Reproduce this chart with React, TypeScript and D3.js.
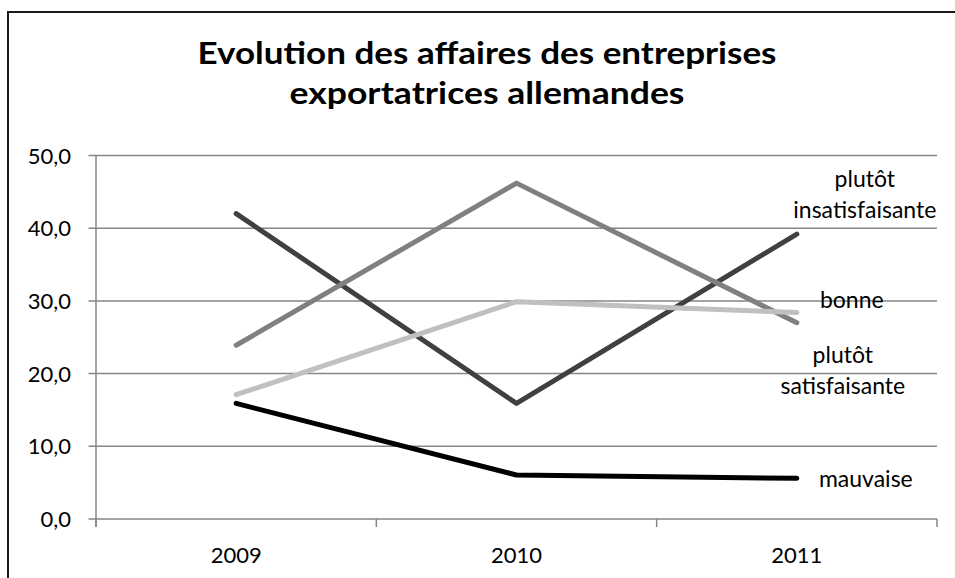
import * as d3 from "d3";

const years = ["2009", "2010", "2011"];
const seriesNames = ["plutôt insatisfaisante", "plutôt satisfaisante", "bonne", "mauvaise"];
const insatisfaisante = [42.0, 15.9, 39.2];
const satisfaisante = [23.9, 46.2, 27.0];
const bonne = [17.1, 29.9, 28.4];
const mauvaise = [15.9, 6.05, 5.6];
const yTicks = [0, 10, 20, 30, 40, 50];
const titleLines = ["Evolution des affaires des entreprises", "exportatrices allemandes"];

const W = 955;
const H = 578;
const FONT = "Lato, 'Open Sans', sans-serif";

export default function App() {
  const x = d3.scaleBand<string>().domain(years).range([96, 937]).padding(0);
  const y = d3.scaleLinear().domain([0, 50]).range([519, 155.5]);

  const series = [
    { name: seriesNames[0], values: insatisfaisante, color: "#404040" },
    { name: seriesNames[1], values: satisfaisante, color: "#808080" },
    { name: seriesNames[2], values: bonne, color: "#c0c0c0" },
    { name: seriesNames[3], values: mauvaise, color: "#000000" },
  ];

  const line = d3
    .line<number>()
    .x((_, i) => (x(years[i]) ?? 0) + x.bandwidth() / 2)
    .y((d) => y(d));

  // manually placed end labels (offsets from the last year)
  const lastX = (x(years[2]) ?? 0) + x.bandwidth() / 2;
  const labels = [
    { lines: ["plutôt", "insatisfaisante"], dx: 68, baseline: 187 },
    { lines: ["bonne"], dx: 55, baseline: 308 },
    { lines: ["plutôt", "satisfaisante"], dx: 46, baseline: 363 },
    { lines: ["mauvaise"], dx: 69, baseline: 487 },
  ];

  const boundaries = [...years.map((yr) => x(yr) ?? 0), x.range()[1]];

  return (
    <div style={{ position: "absolute", left: 0, top: 0 }}>
      <svg width={W} height={H} style={{ display: "block", background: "#fff" }} fontFamily={FONT}>
        <rect x={8} y={12} width={W + 20} height={H + 20} fill="#fff" stroke="#1a1a1a" strokeWidth={2} />

        {titleLines.map((t, i) => (
          <text
            key={t}
            x={487}
            y={64 + i * 40}
            textAnchor="middle"
            fontSize={31}
            fontWeight="bold"
            fill="#000"
            textLength={i === 0 ? 579 : 395}
            lengthAdjust="spacingAndGlyphs"
          >
            {t}
          </text>
        ))}

        {/* gridlines and y ticks */}
        {yTicks.map((t) => (
          <g key={t}>
            <line x1={88.5} x2={x.range()[1]} y1={y(t)} y2={y(t)} stroke="#868686" strokeWidth={1.5} />
            <text x={71} y={y(t) + 8} textAnchor="end" fontSize={22} fill="#000">
              {t.toFixed(1).replace(".", ",")}
            </text>
          </g>
        ))}

        {/* y axis */}
        <line x1={96} x2={96} y1={y(50)} y2={y(0) + 8} stroke="#868686" strokeWidth={1.5} />
        {/* x ticks */}
        {boundaries.map((b, i) => (
          <line key={i} x1={b} x2={b} y1={y(0)} y2={y(0) + 8} stroke="#868686" strokeWidth={1.5} />
        ))}
        {years.map((yr) => (
          <text key={yr} x={(x(yr) ?? 0) + x.bandwidth() / 2} y={563} textAnchor="middle" fontSize={22} fill="#000">
            {yr}
          </text>
        ))}

        {series.map((s) => (
          <path
            key={s.name}
            d={line(s.values) ?? ""}
            fill="none"
            stroke={s.color}
            strokeWidth={5}
            strokeLinecap="round"
            strokeLinejoin="round"
          />
        ))}

        {labels.map((l, i) => (
          <text key={i} x={lastX + l.dx} y={l.baseline} textAnchor="middle" fontSize={23} fill="#000">
            {l.lines.map((ln, j) => (
              <tspan key={j} x={lastX + l.dx} dy={j === 0 ? 0 : 31}>
                {ln}
              </tspan>
            ))}
          </text>
        ))}
      </svg>
    </div>
  );
}
